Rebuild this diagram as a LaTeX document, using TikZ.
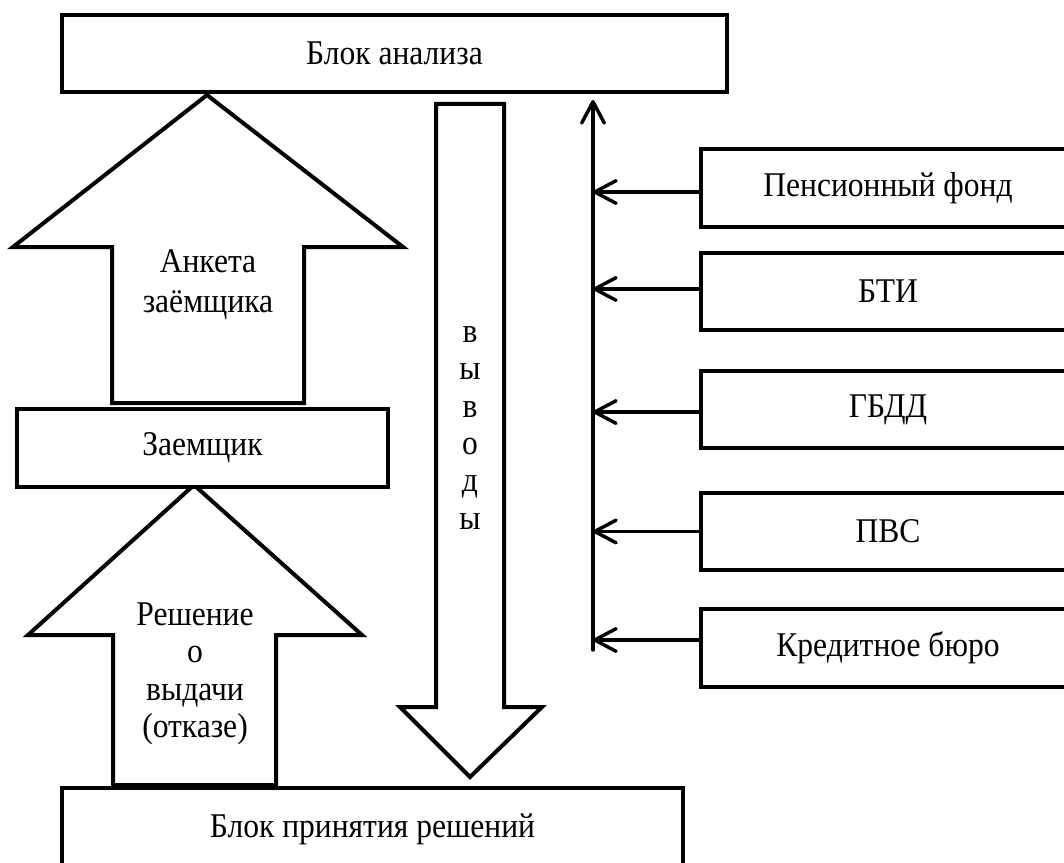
\documentclass[tikz,border=0pt]{standalone}
\usepackage{fontspec}
\setmainfont[FakeStretch=0.91]{Liberation Serif}
\usetikzlibrary{arrows.meta}
\begin{document}
\begin{tikzpicture}[x=0.75pt,y=-0.75pt,
  font=\fontsize{26}{28}\selectfont,
  box/.style={draw=black, line width=3pt, fill=white, rectangle, inner sep=0pt},
  blockarrow/.style={draw=black, line width=3pt, fill=white, line join=miter},
  lbl/.style={align=center, inner sep=0pt},
  conn/.style={line width=2.6pt, line cap=round,
    -{Straight Barb[length=16pt,width=17pt,line cap=round,line join=round]}},
  vline/.style={line width=2.6pt}]
\path[use as bounding box] (0,0) rectangle (1064,863);
\clip (0,0) rectangle (1064,863);

% block arrows
\draw[blockarrow] (207,95) -- (403,247) -- (304,247) -- (304,403) -- (112,403)
  -- (112,247) -- (13,247) -- cycle;
\draw[blockarrow] (194,485) -- (362,635) -- (276,635) -- (276,785) -- (113,785)
  -- (113,635) -- (28,635) -- cycle;
\draw[blockarrow] (436,104) -- (504,104) -- (504,707) -- (542,707) -- (470,777)
  -- (400,707) -- (436,707) -- cycle;

% boxes
\node[box, minimum width=665*0.75pt, minimum height=77*0.75pt] (ba) at (394.5,53.5) {Блок анализа};
\node[box, minimum width=621*0.75pt, minimum height=82*0.75pt] (bp) at (372.5,829) {Блок принятия решений};
\node[box, minimum width=371*0.75pt, minimum height=78*0.75pt] (zm) at (202.5,448) {Заемщик};

\node[box, minimum width=374*0.75pt, minimum height=78*0.75pt] (pf) at (888,188) {Пенсионный фонд};
\node[box, minimum width=374*0.75pt, minimum height=77*0.75pt] (bti) at (888,291.5) {БТИ};
\node[box, minimum width=374*0.75pt, minimum height=77*0.75pt] (gbdd) at (888,409.5) {ГБДД};
\node[box, minimum width=374*0.75pt, minimum height=77*0.75pt] (pvs) at (888,531.5) {ПВС};
\node[box, minimum width=374*0.75pt, minimum height=78*0.75pt] (kb) at (888,648) {Кредитное бюро};

% arrow labels
\node[lbl, font=\fontsize{26}{30}\selectfont] (anketa) at (208,285) {Анкета\\заёмщика};
\node[lbl] (reshenie) at (195,674) {Решение\\о\\выдачи\\(отказе)};
\node[lbl] (vyvody) at (470,428) {в\\ы\\в\\о\\д\\ы};

% collector line
\coordinate (vb) at (593,650);
\coordinate (vt) at (593,100);
\draw[conn] (vb) -- (vt);

\draw[conn] ([yshift=-3pt]pf.west) coordinate (a1) -- (a1 -| vt);
\draw[conn] ([yshift=1.9pt]bti.west) coordinate (a2) -- (a2 -| vt);
\draw[conn] ([yshift=-1.9pt]gbdd.west) coordinate (a3) -- (a3 -| vt);
\draw[conn] (pvs.west) coordinate (a4) -- (a4 -| vt);
\draw[conn] ([yshift=6pt]kb.west) coordinate (a5) -- (a5 -| vt);
\end{tikzpicture}
\end{document}
